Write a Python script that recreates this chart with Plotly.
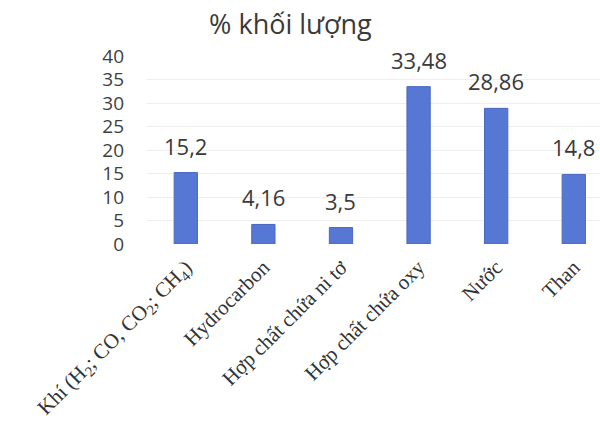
import plotly.graph_objects as go

# Mass fractions of the pyrolysis products (%)
categories = [
    "Khí (H<sub>2</sub>; CO, CO<sub>2</sub>; CH<sub>4</sub>)",
    "Hydrocarbon",
    "Hợp chất chứa ni tơ",
    "Hợp chất chứa oxy",
    "Nước",
    "Than",
]
values = [15.2, 4.16, 3.5, 33.48, 28.86, 14.8]
y_ticks = [0, 5, 10, 15, 20, 25, 30, 35, 40]

bar_color = "#5677D4"
sans = "'Open Sans', 'Noto Sans', sans-serif"
serif = "'Liberation Serif', 'DejaVu Serif', serif"

fig = go.Figure(
    go.Bar(
        x=list(range(len(categories))),
        y=values,
        width=0.3,
        marker=dict(color=bar_color, line=dict(color="#4a68c0", width=1)),
        hoverinfo="skip",
    )
)

# Value labels above each bar, with a decimal comma
for i, v in enumerate(values):
    fig.add_annotation(
        x=i, y=v, text=str(v).replace(".", ","),
        showarrow=False, yanchor="bottom", yshift=10,
        font=dict(family=sans, size=22, color="#3a3a3a"),
    )

fig.update_layout(
    width=600, height=423,
    margin=dict(l=147, r=0, t=56, b=179),
    paper_bgcolor="white", plot_bgcolor="white",
    title=dict(
        text="% khối lượng", x=0.484, xanchor="center", y=0.941, yanchor="middle",
        font=dict(family=sans, size=27, color="#3a3a3a"),
    ),
    showlegend=False,
)
fig.update_xaxes(
    tickmode="array", tickvals=list(range(len(categories))), ticktext=categories,
    range=[-0.5, 5.338], automargin=False,
    tickangle=-45, showline=False, showgrid=False, ticks="",
    ticklabelstandoff=6,
    tickfont=dict(family=serif, size=21, color="#333333"),
)
fig.update_yaxes(
    range=[0, 40], tickvals=y_ticks, showline=False, zeroline=False,
    showgrid=True, gridcolor="#eeeeee", gridwidth=1, ticks="",
    ticklabelstandoff=22, automargin=False,
    tickfont=dict(family=sans, size=19, color="#404040"),
)

fig.write_html("out.html")
